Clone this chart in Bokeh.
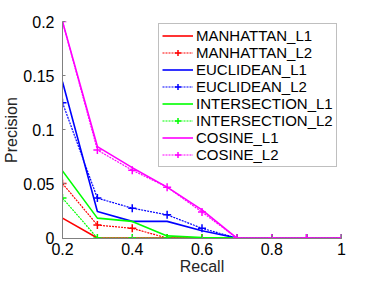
from bokeh.plotting import figure
from bokeh.models import FixedTicker, Range1d, Legend
from bokeh.embed import file_html
from bokeh.resources import INLINE

recall = [0.2, 0.3, 0.4, 0.5, 0.6, 0.7, 0.8, 0.9, 1.0]

manhattan_l1 = [0.0184, 0.0, 0.0, 0.0, 0.0, 0.0, 0.0, 0.0, 0.0]
manhattan_l2 = [0.0504, 0.012, 0.009, 0.0, 0.0, 0.0, 0.0, 0.0, 0.0]
euclidean_l1 = [0.1443, 0.0246, 0.0154, 0.0154, 0.0067, 0.0, 0.0, 0.0, 0.0]
euclidean_l2 = [0.125, 0.0369, 0.0276, 0.0215, 0.009, 0.0, 0.0, 0.0, 0.0]
intersection_l1 = [0.062, 0.0184, 0.0154, 0.002, 0.0005, 0.0, 0.0, 0.0, 0.0]
intersection_l2 = [0.0369, 0.0, 0.0, 0.0, 0.0, 0.0, 0.0, 0.0, 0.0]
cosine_l1 = [0.2, 0.0845, 0.065, 0.047, 0.026, 0.0, 0.0, 0.0, 0.0]
cosine_l2 = [0.2, 0.0814, 0.0627, 0.047, 0.024, 0.0, 0.0, 0.0, 0.0]

series = [
    ("MANHATTAN_L1", manhattan_l1, "#ff0000", False),
    ("MANHATTAN_L2", manhattan_l2, "#ff0000", True),
    ("EUCLIDEAN_L1", euclidean_l1, "#0000ff", False),
    ("EUCLIDEAN_L2", euclidean_l2, "#0000ff", True),
    ("INTERSECTION_L1", intersection_l1, "#00ff00", False),
    ("INTERSECTION_L2", intersection_l2, "#00ff00", True),
    ("COSINE_L1", cosine_l1, "#ff00ff", False),
    ("COSINE_L2", cosine_l2, "#ff00ff", True),
]

x_ticks = [0.2, 0.4, 0.6, 0.8, 1.0]
x_labels = {0.2: "0.2", 0.4: "0.4", 0.6: "0.6", 0.8: "0.8", 1.0: "1"}
y_ticks = [0, 0.05, 0.1, 0.15, 0.2]
y_labels = {0: "0", 0.05: "0.05", 0.1: "0.1", 0.15: "0.15", 0.2: "0.2"}
x_title = "Recall"
y_title = "Precision"

FONT = "Liberation Sans"

p = figure(frame_width=279, frame_height=217, output_backend="svg", toolbar_location=None,
           x_range=Range1d(0.2, 1.0), y_range=Range1d(-0.0004, 0.2),
           min_border_left=62, min_border_right=25, min_border_top=21, min_border_bottom=38)
p.outline_line_color = None
p.xgrid.visible = False
p.ygrid.visible = False

items = []
for name, vals, color, dotted in series:
    rs = []
    if dotted:
        rs.append(p.line(recall, vals, line_color=color, line_width=1.2, line_dash="2 1"))
        rs.append(p.scatter(recall, vals, marker="cross", size=8, line_color=color, line_width=1.5))
    else:
        rs.append(p.line(recall, vals, line_color=color, line_width=1.6))
    items.append((name, rs))

legend = Legend(items=items, location=(96, 71))
legend.label_text_font = FONT
legend.label_text_font_size = "15px"
legend.label_text_color = "black"
legend.glyph_width = 31
legend.glyph_height = 15
legend.label_height = 15
legend.spacing = 0
legend.padding = 3
legend.margin = 0
legend.label_standoff = 3
legend.border_line_color = "#808080"
legend.border_line_width = 1
legend.background_fill_color = "white"
legend.background_fill_alpha = 1
p.add_layout(legend, "center")

for ax in (p.xaxis[0], p.yaxis[0]):
    ax.axis_line_color = "#808080"
    ax.major_tick_line_color = "#808080"
    ax.major_tick_in = 3
    ax.major_tick_out = 0
    ax.minor_tick_line_color = None
    ax.major_label_text_font = FONT
    ax.major_label_text_font_size = "16px"
    ax.major_label_text_color = "black"
    ax.axis_label_text_font = FONT
    ax.axis_label_text_font_size = "16px"
    ax.axis_label_text_font_style = "normal"
    ax.axis_label_text_color = "#262626"

p.xaxis.ticker = FixedTicker(ticks=x_ticks)
p.xaxis.major_label_overrides = x_labels
p.yaxis.ticker = FixedTicker(ticks=y_ticks)
p.yaxis.major_label_overrides = y_labels
p.xaxis.axis_label = x_title
p.yaxis.axis_label = y_title
p.xaxis.major_label_standoff = 4
p.xaxis.axis_label_standoff = 0
p.yaxis.major_label_standoff = 8
p.yaxis.axis_label_standoff = 0

open("out.html", "w").write(file_html(p, INLINE))
